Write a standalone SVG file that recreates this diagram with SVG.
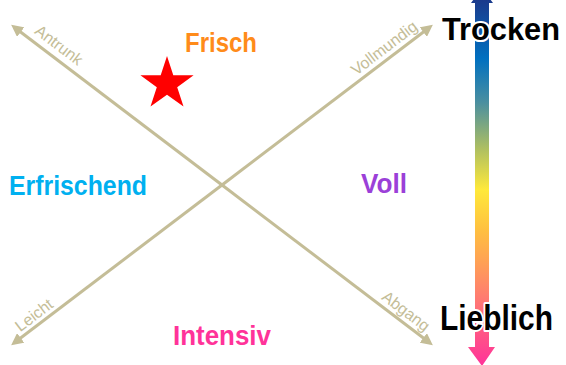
<svg xmlns="http://www.w3.org/2000/svg" width="566" height="365" viewBox="0 0 566 365">
<style>
.lbl{font-family:"Liberation Sans",Arial,sans-serif;font-weight:bold;font-size:27px}
.ax{font-family:"Liberation Sans",Arial,sans-serif;font-size:16px;fill:#C4BD97}
.big{font-family:"Liberation Sans",Arial,sans-serif;font-weight:bold;fill:#000;stroke:#fff;stroke-width:4;paint-order:stroke;stroke-linejoin:round}
.axis{stroke:#C4BD97;stroke-width:3;fill:none}
</style>
<defs>
<marker id="ah" viewBox="0 0 10 10" refX="7" refY="5" markerWidth="4" markerHeight="4" orient="auto-start-reverse" markerUnits="strokeWidth">
<path d="M0,0 L10,5 L0,10 z" fill="#C4BD97"/>
</marker>
<linearGradient id="grad" gradientUnits="userSpaceOnUse" x1="0" y1="0" x2="0" y2="365">
<stop offset="0" stop-color="#1B3A8C"/>
<stop offset="0.16" stop-color="#0070C0"/>
<stop offset="0.28" stop-color="#4A8FA0"/>
<stop offset="0.41" stop-color="#B0C060"/>
<stop offset="0.52" stop-color="#FFE93A"/>
<stop offset="0.63" stop-color="#FFC040"/>
<stop offset="0.72" stop-color="#FFA055"/>
<stop offset="0.83" stop-color="#FF7575"/>
<stop offset="1" stop-color="#FF3399"/>
</linearGradient>
</defs>
<g id="connectors">
<line class="axis" x1="222" y1="185" x2="14" y2="27" marker-end="url(#ah)"/>
<line class="axis" x1="222" y1="185" x2="430" y2="343" marker-end="url(#ah)"/>
<line class="axis" x1="222" y1="185" x2="14" y2="343" marker-end="url(#ah)"/>
<line class="axis" x1="222" y1="185" x2="430" y2="27" marker-end="url(#ah)"/>
</g>
<g id="axis-labels">
<text class="ax" transform="translate(59,45) rotate(37.2)" text-anchor="middle" dominant-baseline="central">Antrunk</text>
<text class="ax" transform="translate(384,48) rotate(-37.2)" text-anchor="middle" dominant-baseline="central">Vollmundig</text>
<text class="ax" transform="translate(34,315) rotate(-37.2)" text-anchor="middle" dominant-baseline="central">Leicht</text>
<text class="ax" transform="translate(406,311) rotate(37.2)" text-anchor="middle" dominant-baseline="central">Abgang</text>
</g>
<g id="scale">
<polygon points="482,-12 493,3 489,3 489,347 495,347 482,366 468,347 475,347 475,3 471,3" fill="url(#grad)"/>
</g>
<g id="star">
<polygon fill="#FF0000" points="167,56 173.3,75.3 193.6,75.3 177.2,87.3 183.5,106.6 167,94.7 150.5,106.6 156.8,87.3 140.4,75.3 160.7,75.3"/>
</g>
<g id="node-frisch"><text class="lbl" x="185" y="52" textLength="72" lengthAdjust="spacingAndGlyphs" fill="#FF8B1A">Frisch</text></g>
<g id="node-erfrischend"><text class="lbl" x="9" y="195" textLength="138" lengthAdjust="spacingAndGlyphs" fill="#00B0F0">Erfrischend</text></g>
<g id="node-voll"><text class="lbl" x="361" y="193" textLength="46" lengthAdjust="spacingAndGlyphs" fill="#9B40D8">Voll</text></g>
<g id="node-intensiv"><text class="lbl" x="173" y="345" textLength="98" lengthAdjust="spacingAndGlyphs" fill="#FF3399">Intensiv</text></g>
<g id="node-trocken"><text class="big" x="442" y="40" font-size="32" textLength="118" lengthAdjust="spacingAndGlyphs">Trocken</text></g>
<g id="node-lieblich"><text class="big" x="440" y="330" font-size="35" textLength="113" lengthAdjust="spacingAndGlyphs">Lieblich</text></g>
</svg>
